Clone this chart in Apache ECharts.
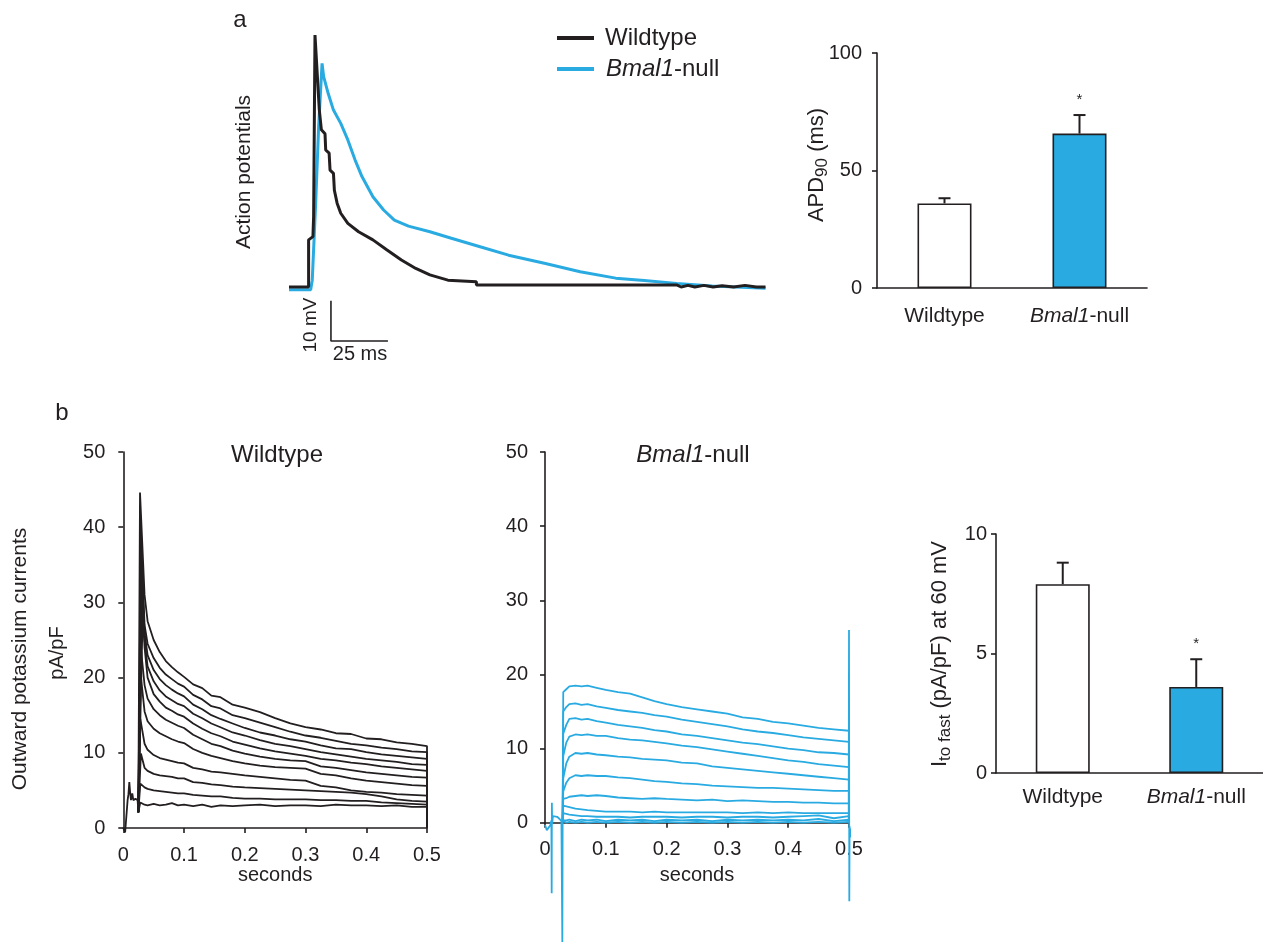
<!DOCTYPE html>
<html>
<head>
<meta charset="utf-8">
<script src="https://cdn.jsdelivr.net/npm/echarts@6/dist/echarts.min.js"></script>
<style>
  html, body { margin: 0; padding: 0; background: #fff; }
  #chart { width: 1263px; height: 942px; }
</style>
</head>
<body>
<div id="chart"></div>
<script>
// ---- panel a: action potentials (ms, mV relative to rest) ----
var apWtTime = [0, 8.6, 8.6, 10.5, 10.8, 11.4, 12.0, 13.3, 14.2, 15.8, 16.1, 17.6, 18.0, 19.5, 19.9, 21.1, 22.7, 25.8, 30.5, 36.8, 43, 49.3, 55.6, 61.8, 69.7, 82.2, 82.2, 170, 172, 175, 178, 182, 186, 190, 195, 200, 205, 209];
var apWtMv = [0, 0, 11.7, 12.5, 17.5, 62.5, 62.5, 43.9, 39, 38, 34, 33.2, 29, 28.2, 24, 20.8, 18.3, 15.8, 13.7, 11.7, 9.2, 6.7, 4.6, 3.0, 1.7, 1.3, 0.5, 0.5, 0.0, 0.4, 0.0, 0.4, 0.0, 0.3, 0.0, 0.4, 0.0, 0.0];
var apBmTime = [0, 9.5, 10.2, 11.7, 13.0, 14.5, 15.2, 17.2, 19.5, 22.7, 25.8, 29, 32, 36.8, 41.5, 46.2, 52.4, 61.8, 71.2, 83.8, 96.3, 112, 127.7, 143.3, 155.8, 170, 185.6, 209];
var apBmMv = [-0.7, -0.7, 1.7, 20.8, 39.8, 55.5, 52.2, 48, 43.9, 40.6, 36.5, 31.5, 27.4, 22.4, 19.1, 16.6, 15.1, 13.7, 12.1, 10, 7.9, 5.9, 3.8, 2.2, 1.6, 0.9, 0.25, -0.3];
var scaleBarCorner = [18.4, -13.4];
var scaleBarMs = 25;
var scaleBarMv = 10;

// ---- APD90 bars ----
var groups = ['Wildtype', 'Bmal1-null'];
var apdMean = [36.0, 65.7];
var apdErr = [2.2, 7.9];
var apdMark = ['', '*'];

// ---- panel b: outward K+ currents (s, pA/pF) ----
var wtPreTime = [0, 0.003, 0.0055, 0.0071, 0.0085, 0.0099, 0.0112, 0.0126, 0.0148, 0.0165, 0.02, 0.0236, 0.0247];
var wtPreVal = [0, -0.6, -0.5, 3.7, 4.5, 6.1, 4.8, 3.7, 4.6, 3.7, 3.9, 3.7, 2.1];
var wtPeakTime = [0.0275, 0.029, 0.030, 0.031, 0.032, 0.028, 0.0285, 0.028, 0.029, 0.028, 0.028];
var wtPeakVal = [44.6, 39.7, 35, 31.5, 28.7, 24.7, 20.5, 14.5, 9.9, 5.9, 3.4];
var wtTimes = [0.035, 0.04, 0.05, 0.06, 0.07, 0.08, 0.09, 0.1, 0.115, 0.13, 0.145, 0.16, 0.18, 0.2, 0.225, 0.25, 0.275, 0.3, 0.325, 0.35, 0.375, 0.4, 0.425, 0.45, 0.475, 0.5];
var wtTraces = [
    [31, 27.5, 25, 23.4, 22.2, 21.4, 20.7, 20.1, 19.1, 18.6, 17.6, 17.4, 16.4, 16.0, 15.4, 14.6, 13.9, 13.4, 13.1, 12.6, 12.5, 11.9, 11.8, 11.4, 11.2, 10.9],
    [27, 24.5, 22.6, 21.3, 20.4, 19.8, 19.2, 18.8, 17.7, 17.1, 16.2, 15.9, 15.0, 14.6, 14.0, 13.4, 12.8, 12.3, 12.0, 11.6, 11.2, 11.0, 10.7, 10.5, 10.2, 10.1],
    [26, 23, 21, 19.8, 19.0, 18.4, 17.9, 17.5, 16.4, 15.8, 15.0, 14.5, 13.9, 13.3, 12.7, 12.3, 11.8, 11.5, 11.0, 10.6, 10.5, 10.1, 9.8, 9.6, 9.4, 9.2],
    [25, 21.5, 19.5, 18.3, 17.5, 17.0, 16.5, 16.2, 15.2, 14.6, 13.9, 13.4, 12.7, 12.3, 11.7, 11.2, 10.9, 10.5, 10.1, 9.8, 9.5, 9.2, 9.0, 8.8, 8.5, 8.4],
    [24, 20, 17.8, 16.8, 16.0, 15.6, 15.1, 14.8, 13.9, 13.2, 12.6, 12.2, 11.5, 11.1, 10.6, 10.2, 9.9, 9.6, 9.2, 9.0, 8.7, 8.5, 8.2, 8.0, 7.8, 7.6],
    [19, 17.2, 15.8, 15.0, 14.4, 14.0, 13.6, 13.3, 12.4, 11.8, 11.2, 10.9, 10.3, 9.9, 9.5, 9.2, 9.0, 8.9, 8.2, 8.0, 7.7, 7.4, 7.2, 7.0, 6.8, 6.7],
    [15.5, 14.2, 13.2, 12.6, 12.2, 11.8, 11.5, 11.3, 10.5, 10.0, 9.6, 9.3, 8.9, 8.6, 8.3, 8.1, 8.0, 7.9, 7.2, 7.0, 6.6, 6.3, 6.1, 5.9, 5.7, 5.6],
    [11.2, 10.4, 9.7, 9.3, 9.1, 8.9, 8.7, 8.6, 8.0, 7.8, 7.5, 7.4, 7.2, 7.0, 6.8, 6.6, 6.4, 6.3, 5.6, 5.4, 5.0, 4.8, 4.7, 4.5, 4.4, 4.3],
    [8.0, 7.6, 7.2, 7.0, 6.9, 6.8, 6.6, 6.6, 6.1, 6.0, 5.8, 5.7, 5.5, 5.4, 5.3, 5.2, 5.1, 5.0, 4.9, 4.8, 4.7, 4.5, 4.2, 3.8, 3.6, 3.5],
    [5.4, 5.2, 5.0, 4.9, 4.8, 4.7, 4.6, 4.6, 4.4, 4.3, 4.2, 4.2, 4.0, 3.9, 3.9, 3.8, 3.8, 3.8, 3.7, 3.7, 3.6, 3.6, 3.4, 3.3, 3.2, 3.1],
    [3.1, 3.0, 3.2, 3.0, 3.1, 3.3, 3.0, 3.1, 2.9, 3.1, 2.8, 3.0, 2.9, 3.0, 3.1, 2.9, 3.0, 3.0, 2.9, 3.1, 3.0, 3.0, 2.9, 3.0, 2.8, 2.8]
];

var bmPreTime = [0, 0.003, 0.006, 0.009, 0.0105, 0.011, 0.0113, 0.0118, 0.013, 0.016, 0.02, 0.024, 0.027, 0.0285, 0.029];
var bmPreVal = [-0.3, -1.0, -0.8, -0.3, 0.3, -9.5, 2.7, -0.2, 0.9, 1.0, 0.8, 0.5, 0.2, -16.2, 0.3];
var bmPostTime = [0.4995, 0.5, 0.5005, 0.501, 0.502, 0.503, 0.504];
var bmPostVal = [0.3, 26, -10.6, -0.5, -2.0, -0.8, -1.2];
var bmTimes = [0.03, 0.035, 0.04, 0.05, 0.06, 0.07, 0.085, 0.1, 0.12, 0.14, 0.16, 0.18, 0.2, 0.225, 0.25, 0.275, 0.3, 0.325, 0.35, 0.375, 0.4, 0.425, 0.45, 0.475, 0.5];
var bmTraces = [
    [17.6, 18.0, 18.4, 18.5, 18.4, 18.5, 18.2, 17.9, 17.6, 17.4, 16.9, 16.4, 16.0, 15.6, 15.3, 15.0, 14.7, 14.2, 14.0, 13.6, 13.4, 13.1, 12.8, 12.6, 12.4],
    [15.0, 15.6, 16.0, 16.1, 15.9, 16.0, 15.7, 15.5, 15.2, 15.0, 14.8, 14.5, 14.3, 13.9, 13.6, 13.3, 13.0, 12.6, 12.3, 12.1, 11.8, 11.5, 11.3, 11.1, 10.9],
    [12.0, 13.2, 14.0, 14.1, 13.9, 14.0, 13.7, 13.5, 13.2, 13.0, 12.8, 12.5, 12.3, 11.9, 11.7, 11.4, 11.1, 10.8, 10.6, 10.3, 10.0, 9.8, 9.5, 9.4, 9.2],
    [9.0, 10.8, 11.6, 11.9, 11.8, 11.9, 11.7, 11.7, 11.4, 11.2, 11.1, 10.9, 10.7, 10.4, 10.2, 9.9, 9.6, 9.3, 9.0, 8.7, 8.4, 8.2, 7.9, 7.7, 7.5],
    [6.0, 8.0, 8.9, 9.4, 9.3, 9.4, 9.2, 9.1, 8.9, 8.8, 8.6, 8.5, 8.4, 8.1, 8.0, 7.6, 7.4, 7.2, 7.0, 6.8, 6.6, 6.4, 6.2, 6.0, 5.8],
    [4.2, 5.4, 6.0, 6.4, 6.3, 6.4, 6.3, 6.3, 6.1, 6.0, 5.8, 5.6, 5.5, 5.3, 5.2, 5.0, 4.9, 4.8, 4.7, 4.7, 4.6, 4.5, 4.4, 4.3, 4.3],
    [3.2, 3.3, 3.5, 3.6, 3.7, 3.6, 3.7, 3.6, 3.4, 3.3, 3.2, 3.3, 3.2, 3.1, 3.0, 3.1, 2.9, 3.0, 2.9, 2.8, 2.8, 2.7, 2.7, 2.6, 2.6],
    [2.3, 2.2, 2.1, 1.9, 1.8, 1.7, 1.6, 1.5, 1.5, 1.5, 1.4, 1.5, 1.4, 1.4, 1.4, 1.4, 1.4, 1.3, 1.4, 1.3, 1.4, 1.3, 1.3, 1.3, 1.3],
    [1.3, 1.2, 1.1, 1.0, 0.9, 0.9, 0.8, 0.8, 0.8, 0.7, 0.8, 0.8, 0.8, 0.7, 0.8, 0.8, 0.7, 0.8, 0.8, 0.7, 0.8, 0.9, 1.0, 0.6, 0.9],
    [0.5, 0.3, 0.4, 0.2, 0.4, 0.3, 0.4, 0.2, 0.4, 0.3, 0.4, 0.2, 0.4, 0.3, 0.4, 0.2, 0.4, 0.3, 0.4, 0.3, 0.4, 0.3, 0.5, 0.2, 0.4],
    [0.1, 0.0, 0.1, 0.0, 0.1, 0.0, 0.1, 0.0, 0.1, 0.0, 0.1, 0.0, 0.1, 0.0, 0.1, 0.0, 0.1, 0.0, 0.1, 0.0, 0.1, 0.0, 0.1, 0.0, 0.1]
];

// ---- Ito fast bars ----
var itoMean = [7.9, 3.6];
var itoErr = [0.9, 1.16];
var itoMark = ['', '*'];

var FONT = '"Liberation Sans", Arial, Helvetica, sans-serif';
var INK = '#231f20';
var BLUE = '#29abe2';

function pairs(times, values) {
    return times.map(function (t, i) { return [t, values[i]]; });
}

function groupLabel(v) {
    return v === 'Bmal1-null' ? '{i|Bmal1}{n|-null}' : '{n|' + v + '}';
}

function legendLabel(v) {
    return v === 'Bmal1-null' ? '{fi|Bmal1}{n|-null}' : '{fn|' + v + '}';
}

function valueAxis(gridIndex, min, max, interval, margin) {
    return {
        type: 'value', gridIndex: gridIndex, min: min, max: max, interval: interval,
        axisLine: { show: true, onZero: false, lineStyle: { color: INK, width: 1.6 } },
        axisTick: { show: true, length: 5, lineStyle: { color: INK, width: 1.6 } },
        splitLine: { show: false },
        axisLabel: { color: INK, fontSize: 20, fontFamily: FONT, margin: margin }
    };
}

function groupAxis(gridIndex, margin) {
    return {
        type: 'category', gridIndex: gridIndex, data: groups,
        axisLine: { lineStyle: { color: INK, width: 1.6 } },
        axisTick: { length: 5, lineStyle: { color: INK, width: 1.6 } },
        axisLabel: {
            margin: margin, formatter: groupLabel,
            rich: {
                n: { color: INK, fontSize: 21, fontFamily: FONT },
                i: { color: INK, fontSize: 21, fontFamily: FONT, fontStyle: 'italic' }
            }
        }
    };
}

function barSeries(axisIndex, means) {
    return {
        type: 'bar', xAxisIndex: axisIndex, yAxisIndex: axisIndex, barWidth: 54,
        data: means.map(function (m, i) {
            return { value: m, itemStyle: { color: i === 0 ? '#ffffff' : BLUE } };
        }),
        itemStyle: { borderColor: INK, borderWidth: 1.6 }
    };
}

function errorSeries(axisIndex, means, errs, marks) {
    return {
        type: 'custom', xAxisIndex: axisIndex, yAxisIndex: axisIndex, z: 4,
        data: means.map(function (m, i) { return [i, m, m + errs[i]]; }),
        encode: { x: 0, y: [1, 2] },
        renderItem: function (params, api) {
            var base = api.coord([api.value(0), api.value(1)]);
            var top = api.coord([api.value(0), api.value(2)]);
            var line = { stroke: INK, lineWidth: 2 };
            var children = [
                { type: 'line', shape: { x1: base[0], y1: base[1], x2: top[0], y2: top[1] }, style: line },
                { type: 'line', shape: { x1: top[0] - 6, y1: top[1], x2: top[0] + 6, y2: top[1] }, style: line }
            ];
            var mark = marks[params.dataIndex];
            if (mark) {
                children.push({
                    type: 'text', x: top[0], y: top[1] - 15,
                    style: { text: mark, fill: INK, fontSize: 15, fontFamily: FONT, align: 'center', verticalAlign: 'middle' }
                });
            }
            return { type: 'group', children: children };
        }
    };
}

function traceSeries(axisIndex, data, color) {
    return {
        type: 'line', xAxisIndex: axisIndex, yAxisIndex: axisIndex, data: data,
        showSymbol: false, clip: false, silent: true,
        lineStyle: { color: color, width: 1.8 }, itemStyle: { color: color }
    };
}

function text(x, y, str, size, extra) {
    var el = {
        type: 'text', x: x, y: y, silent: true,
        style: { text: str, fill: INK, fontSize: size, fontFamily: FONT, align: 'center', verticalAlign: 'middle' }
    };
    if (extra) {
        if (extra.rotation) el.rotation = extra.rotation;
        if (extra.rich) el.style.rich = extra.rich;
    }
    return el;
}

var chart = echarts.init(document.getElementById('chart'));

var series = [];

// panel a traces, blue under black
series.push({
    name: 'Bmal1-null', type: 'line', xAxisIndex: 0, yAxisIndex: 0, data: pairs(apBmTime, apBmMv),
    showSymbol: false, clip: false, lineStyle: { color: BLUE, width: 3 }, itemStyle: { color: BLUE }
});
series.push({
    name: 'Wildtype', type: 'line', xAxisIndex: 0, yAxisIndex: 0, data: pairs(apWtTime, apWtMv),
    showSymbol: false, clip: false, lineStyle: { color: INK, width: 3 }, itemStyle: { color: INK }
});
// 10 mV / 25 ms scale bar
series.push({
    type: 'line', xAxisIndex: 0, yAxisIndex: 0, showSymbol: false, clip: false, silent: true,
    data: [
        [scaleBarCorner[0], scaleBarCorner[1] + scaleBarMv],
        scaleBarCorner,
        [scaleBarCorner[0] + scaleBarMs, scaleBarCorner[1]]
    ],
    lineStyle: { color: INK, width: 1.6 }, itemStyle: { color: INK }
});

series.push(barSeries(1, apdMean));
series.push(errorSeries(1, apdMean, apdErr, apdMark));

// wildtype currents
series.push(traceSeries(2, pairs(wtPreTime, wtPreVal), INK));
wtTraces.forEach(function (vals, k) {
    var data = [[wtPreTime[wtPreTime.length - 1], wtPreVal[wtPreVal.length - 1]], [wtPeakTime[k], wtPeakVal[k]]]
        .concat(pairs(wtTimes, vals))
        .concat([[0.5, 0]]);
    series.push(traceSeries(2, data, INK));
});

// Bmal1-null currents
series.push(traceSeries(3, pairs(bmPreTime, bmPreVal), BLUE));
bmTraces.forEach(function (vals) {
    var data = [[bmPreTime[bmPreTime.length - 1], bmPreVal[bmPreVal.length - 1]]]
        .concat(pairs(bmTimes, vals))
        .concat([[0.5, 0]]);
    series.push(traceSeries(3, data, BLUE));
});
series.push(traceSeries(3, pairs(bmPostTime, bmPostVal), BLUE));

series.push(barSeries(4, itoMean));
series.push(errorSeries(4, itoMean, itoErr, itoMark));

var secondsAxis = function (gridIndex, margin, gap) {
    var ax = valueAxis(gridIndex, 0, 0.5, 0.1, margin);
    ax.name = 'seconds';
    ax.nameLocation = 'middle';
    ax.nameGap = gap;
    ax.nameTextStyle = { color: INK, fontSize: 20, fontFamily: FONT };
    return ax;
};

var subRich = {
    a: { fill: INK, color: INK, fontSize: 22, fontFamily: FONT },
    s: { fill: INK, color: INK, fontSize: 17, fontFamily: FONT, padding: [10, 0, 0, 0] }
};

chart.setOption({
    animation: false,
    backgroundColor: '#ffffff',
    legend: {
        data: ['Wildtype', 'Bmal1-null'],
        orient: 'vertical', left: 552, top: 21,
        icon: 'rect', itemWidth: 37, itemHeight: 4, itemGap: 7,
        selectedMode: false,
        formatter: legendLabel,
        textStyle: {
            rich: {
                fn: { color: INK, fontSize: 24, lineHeight: 24, fontFamily: FONT, padding: [0, 0, 0, 6] },
                fi: { color: INK, fontSize: 24, lineHeight: 24, fontFamily: FONT, fontStyle: 'italic', padding: [0, 0, 0, 7] },
                n: { color: INK, fontSize: 24, lineHeight: 24, fontFamily: FONT }
            }
        }
    },
    grid: [
        { left: 289, top: 25.05, width: 478.8, height: 322.4, outerBoundsMode: 'none' },
        { left: 877, top: 53, width: 270, height: 235, outerBoundsMode: 'none' },
        { left: 123.3, top: 452, width: 303.7, height: 376, outerBoundsMode: 'none' },
        { left: 545, top: 452, width: 304, height: 370.7, outerBoundsMode: 'none' },
        { left: 996, top: 534, width: 267, height: 239, outerBoundsMode: 'none' }
    ],
    xAxis: [
        { type: 'value', gridIndex: 0, min: 0, max: 210, show: false },
        groupAxis(1, 18),
        secondsAxis(2, 17, 37),
        secondsAxis(3, 17, 43),
        groupAxis(4, 14)
    ],
    yAxis: [
        { type: 'value', gridIndex: 0, min: -15, max: 65, show: false },
        valueAxis(1, 0, 100, 50, 15),
        valueAxis(2, 0, 50, 10, 18),
        valueAxis(3, 0, 50, 10, 17),
        valueAxis(4, 0, 10, 5, 9)
    ],
    series: series,
    graphic: [
        text(240, 20, 'a', 24),
        text(62, 413, 'b', 24),
        text(244, 172, 'Action potentials', 21, { rotation: Math.PI / 2 }),
        text(311, 325, '10 mV', 19, { rotation: Math.PI / 2 }),
        text(360, 354, '25 ms', 20),
        text(817, 165, '{a|APD}{s|90}{a| (ms)}', 22, { rotation: Math.PI / 2, rich: subRich }),
        text(20, 659, 'Outward potassium currents', 21, { rotation: Math.PI / 2 }),
        text(57, 653, 'pA/pF', 20, { rotation: Math.PI / 2 }),
        text(277, 455, 'Wildtype', 24),
        text(693, 455, '{i|Bmal1}{n|-null}', 24, {
            rich: {
                i: { fill: INK, fontSize: 24, fontFamily: FONT, fontStyle: 'italic' },
                n: { fill: INK, fontSize: 24, fontFamily: FONT }
            }
        }),
        text(940, 654, '{a|I}{s|to fast}{a| (pA/pF) at 60 mV}', 22, { rotation: Math.PI / 2, rich: subRich })
    ]
});
</script>
</body>
</html>
